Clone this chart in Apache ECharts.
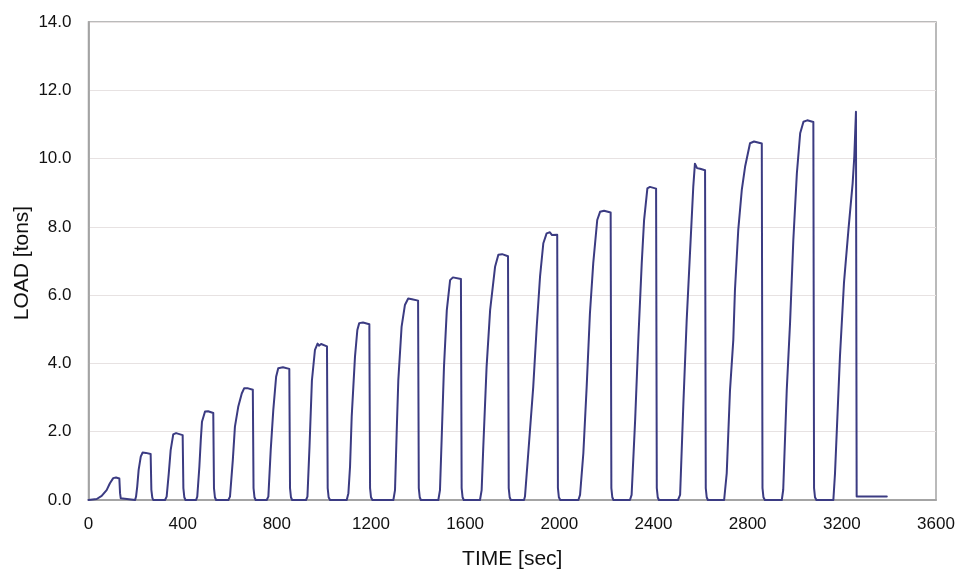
<!DOCTYPE html>
<html>
<head>
<meta charset="utf-8">
<title>Cyclic load test</title>
<script src="https://cdn.jsdelivr.net/npm/echarts@6/dist/echarts.min.js"></script>
<style>
  html, body { margin: 0; padding: 0; background: #ffffff; }
  #chart { width: 958px; height: 571px; }
</style>
</head>
<body>
<div id="chart"></div>
<script>
// Load cycles: time stamps [sec] and the measured load [tons], one row per cycle
const timeSec = [
  [0, 35, 56, 77, 91, 105, 117, 131, 134, 137, 141],
  [144, 198, 202, 207, 213, 222, 230, 244, 264, 267, 271, 275],
  [280, 325, 332, 341, 349, 360, 372, 400, 403, 407, 412],
  [418, 457, 462, 471, 477, 482, 495, 508, 530, 533, 537, 542],
  [548, 594, 601, 613, 622, 636, 651, 661, 678, 698, 701, 705, 710],
  [716, 757, 764, 774, 785, 797, 806, 826, 853, 856, 860, 865],
  [871, 924, 930, 939, 949, 962, 973, 979, 988, 1013, 1016, 1020, 1026],
  [1036, 1097, 1104, 1111, 1118, 1125, 1132, 1142, 1150, 1166, 1193, 1196, 1200, 1206],
  [1217, 1295, 1302, 1309, 1316, 1330, 1344, 1358, 1374, 1400, 1403, 1407, 1412],
  [1418, 1486, 1493, 1500, 1510, 1522, 1536, 1548, 1582, 1585, 1589, 1594],
  [1599, 1663, 1670, 1677, 1691, 1706, 1727, 1741, 1757, 1782, 1785, 1789, 1794],
  [1803, 1850, 1854, 1868, 1889, 1904, 1918, 1932, 1946, 1960, 1969, 1991, 1994, 1998, 2004],
  [2016, 2081, 2088, 2102, 2116, 2130, 2144, 2161, 2173, 2190, 2218, 2221, 2225, 2230],
  [2237, 2300, 2307, 2322, 2336, 2350, 2360, 2374, 2385, 2411, 2414, 2418, 2423],
  [2432, 2504, 2513, 2527, 2541, 2555, 2569, 2576, 2585, 2598, 2619, 2622, 2626, 2631],
  [2638, 2700, 2711, 2725, 2739, 2746, 2760, 2775, 2789, 2810, 2827, 2860, 2863, 2867, 2873],
  [2884, 2945, 2951, 2966, 2980, 2994, 3009, 3023, 3037, 3053, 3079, 3082, 3086, 3092],
  [3097, 3164, 3171, 3192, 3209, 3228, 3246, 3253, 3260, 3263, 3391]
];
const loadTons = [
  [0, 0.03, 0.12, 0.29, 0.49, 0.64, 0.66, 0.63, 0.20, 0.05, 0],
  [0, 0, 0.10, 0.39, 0.88, 1.27, 1.39, 1.38, 1.35, 0.30, 0.07, 0],
  [0, 0, 0.10, 0.78, 1.46, 1.92, 1.96, 1.90, 0.35, 0.08, 0],
  [0, 0, 0.10, 0.98, 1.76, 2.29, 2.59, 2.60, 2.55, 0.35, 0.08, 0],
  [0, 0, 0.10, 1.17, 2.15, 2.73, 3.12, 3.27, 3.27, 3.23, 0.35, 0.08, 0],
  [0, 0, 0.10, 1.46, 2.64, 3.61, 3.86, 3.89, 3.84, 0.35, 0.08, 0],
  [0, 0, 0.10, 1.60, 3.50, 4.40, 4.58, 4.52, 4.57, 4.50, 0.35, 0.08, 0],
  [0, 0, 0.20, 0.98, 2.44, 3.32, 4.20, 4.98, 5.18, 5.20, 5.15, 0.35, 0.08, 0],
  [0, 0, 0.29, 1.96, 3.51, 5.08, 5.71, 5.90, 5.88, 5.84, 0.35, 0.08, 0],
  [0, 0, 0.29, 1.76, 3.90, 5.56, 6.44, 6.52, 6.47, 0.35, 0.08, 0],
  [0, 0, 0.29, 1.56, 3.90, 5.56, 6.83, 7.18, 7.20, 7.14, 0.35, 0.08, 0],
  [0, 0, 0.10, 1.37, 3.30, 5.08, 6.54, 7.52, 7.81, 7.84, 7.76, 7.77, 0.35, 0.08, 0],
  [0, 0, 0.15, 1.37, 3.30, 5.47, 6.93, 8.20, 8.44, 8.47, 8.42, 0.35, 0.08, 0],
  [0, 0, 0.15, 2.34, 4.78, 6.93, 8.20, 9.13, 9.17, 9.12, 0.35, 0.08, 0],
  [0, 0, 0.15, 2.84, 5.27, 7.23, 9.18, 9.85, 9.72, 9.70, 9.66, 0.35, 0.08, 0],
  [0, 0, 0.78, 3.22, 4.69, 6.15, 7.91, 9.08, 9.76, 10.45, 10.50, 10.44, 0.35, 0.08, 0],
  [0, 0, 0.30, 3.22, 5.18, 7.62, 9.57, 10.74, 11.08, 11.12, 11.07, 0.35, 0.08, 0],
  [0, 0, 0.78, 4.20, 6.35, 7.91, 9.28, 10.06, 11.37, 0.10, 0.10]
];
const xTicks = [0, 400, 800, 1200, 1600, 2000, 2400, 2800, 3200, 3600];
const yTicks = [0, 2, 4, 6, 8, 10, 12, 14];
const xTitle = 'TIME [sec]';
const yTitle = 'LOAD [tons]';

// Flatten the per-cycle rows into one trace
const trace = [];
timeSec.forEach((row, i) => {
  row.forEach((t, j) => trace.push([t, loadTons[i][j]]));
});

const axisGray = '#a4a4a4';
const fontFamily = 'Liberation Sans, Arial, sans-serif';
const labelFont = { fontFamily: fontFamily, fontSize: 17, color: '#111111' };
const titleFont = { fontFamily: fontFamily, fontSize: 21, color: '#111111' };

const chart = echarts.init(document.getElementById('chart'), null, { renderer: 'canvas' });
chart.setOption({
  animation: false,
  backgroundColor: '#ffffff',
  grid: {
    left: 88.5, right: 22, top: 22, bottom: 71,
    outerBoundsMode: 'none',
    show: true, borderColor: axisGray, borderWidth: 1.5, backgroundColor: 'transparent'
  },
  // vertical axis title, placed beside the tick labels
  graphic: [{
    type: 'text',
    x: 22,
    y: 263,
    rotation: Math.PI / 2,
    style: {
      text: yTitle,
      fontFamily: fontFamily,
      fontSize: 21,
      fill: '#111111',
      textAlign: 'center',
      textVerticalAlign: 'middle'
    }
  }],
  xAxis: {
    type: 'value',
    min: xTicks[0], max: xTicks[xTicks.length - 1], interval: xTicks[1] - xTicks[0],
    name: xTitle, nameLocation: 'middle', nameGap: 49,
    nameTextStyle: titleFont,
    axisLine: { show: true, lineStyle: { color: axisGray, width: 1.8 } },
    axisTick: { show: false },
    splitLine: { show: false },
    axisLabel: Object.assign({ margin: 16, formatter: v => String(v) }, labelFont)
  },
  yAxis: {
    type: 'value',
    min: yTicks[0], max: yTicks[yTicks.length - 1], interval: yTicks[1] - yTicks[0],
    axisLine: { show: true, lineStyle: { color: axisGray, width: 1.8 } },
    axisTick: { show: false },
    splitLine: { show: true, lineStyle: { color: '#e7e2e2', width: 1.2 } },
    axisLabel: Object.assign({ margin: 17, formatter: v => v.toFixed(1) }, labelFont)
  },
  series: [{
    type: 'line',
    data: trace,
    showSymbol: false,
    smooth: false,
    lineStyle: { color: '#3b3b82', width: 2, join: 'round', cap: 'round' },
    z: 3
  }]
});
</script>
</body>
</html>
